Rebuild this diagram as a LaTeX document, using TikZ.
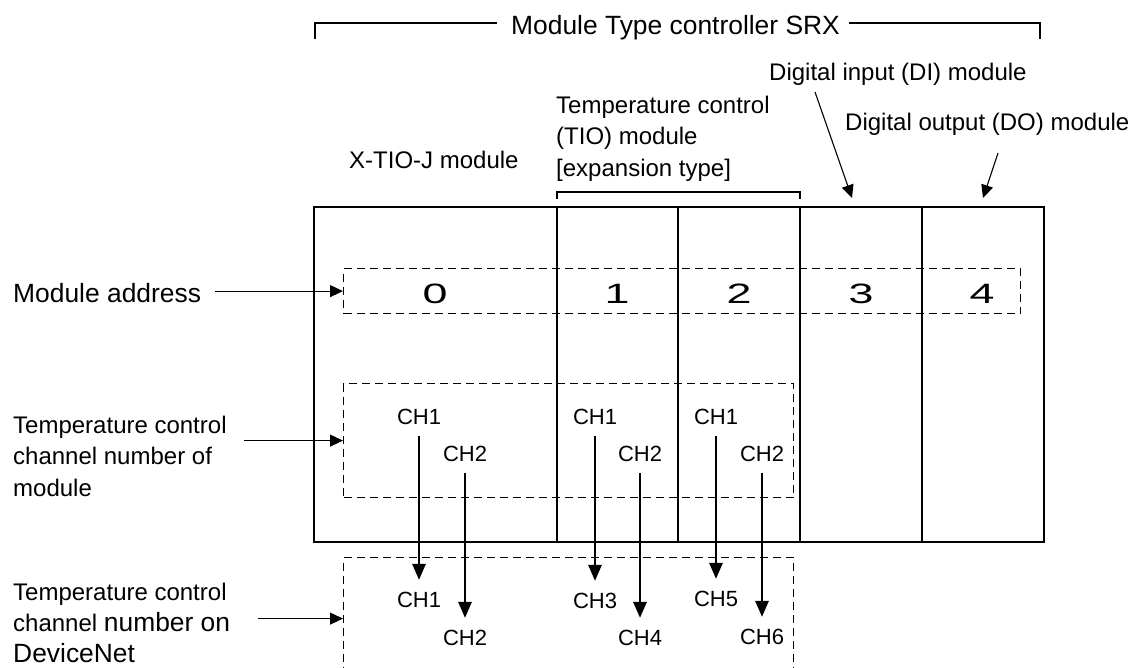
\documentclass[tikz,border=0pt]{standalone}
\usepackage{fontspec}
\setmainfont{Liberation Sans}
\usetikzlibrary{arrows.meta}
\begin{document}
\begin{tikzpicture}[x=1pt,y=-1pt,
  big/.style={font=\fontsize{26.4}{31}\selectfont, inner sep=0pt, anchor=base west},
  lbl/.style={font=\fontsize{24}{31.5}\selectfont, inner sep=0pt, align=left, anchor=north west},
  chl/.style={font=\fontsize{22}{26}\selectfont, inner sep=0pt, anchor=base},
  digit/.style={font=\fontsize{28}{30}\selectfont, inner sep=0pt, anchor=base},
  dbox/.style={draw, dash pattern=on 8pt off 5pt, line width=1.2pt, inner sep=0pt, anchor=north west},
  chflow/.style={-{Triangle[length=16pt,width=13pt]}, line width=2.7pt, shorten <=11.5pt, shorten >=11.5pt},
  pointer/.style={-{Triangle[length=13pt,width=12pt]}, line width=1.1pt},
  thickdiv/.style={line width=2.3pt},
  thindiv/.style={line width=1.7pt},
  bracket/.style={line width=1.3pt}]
\useasboundingbox (0,0) rectangle (1132,668);
\clip (0,0) rectangle (1132,668);

% title and its bracket
\node[big] (title) at (511,34.5) {Module Type controller SRX};
\draw[bracket] (315,39) -- (315,23) -- (497,23);
\draw[bracket] (849,23) -- (1040,23) -- (1040,39);

% module labels
\node[lbl, anchor=base west] (xtio) at (349,169) {X-TIO-J module};
\node[lbl] (tio) at (556,95) {\rule{0pt}{18pt}Temperature control\\(TIO) module\\{[}expansion type{]}};
\draw[bracket] (557,199) -- (557,192) -- (800,192) -- (800,199);
\node[lbl, anchor=base west] (di) at (769,80.5) {Digital input (DI) module};
\node[lbl, anchor=base west] (do) at (845,130.5) {Digital output (DO) module};
\coordinate (difrom) at (815,92);
\coordinate (ditip) at (852,198);
\coordinate (dofrom) at (998,153);
\coordinate (dotip) at (983,198);
\draw[pointer] (difrom) -- (ditip);
\draw[pointer] (dofrom) -- (dotip);

% main box
\draw[line width=2.7pt] (314,207) rectangle (1044,542);
\draw[thickdiv] (557,207) -- (557,542);
\draw[thindiv] (678,207) -- (678,542);
\draw[thickdiv] (800,207) -- (800,542);
\draw[thindiv] (922,207) -- (922,542);

% dashed groups
\node[dbox, minimum width=677pt, minimum height=45pt] (addr) at (343,268) {};
\node[dbox, minimum width=450pt, minimum height=114pt] (chup) at (343,383) {};
\node[dbox, minimum width=450pt, minimum height=122pt] (chnetbox) at (343,557) {};

% addresses
\node[digit] (d0) at (435,303) {\scalebox{1.6}[1]{0}};
\node[digit] (d1) at (617,303) {\scalebox{1.6}[1]{1}};
\node[digit] (d2) at (739,303) {\scalebox{1.6}[1]{2}};
\node[digit] (d3) at (861,303) {\scalebox{1.6}[1]{3}};
\node[digit] (d4) at (982,303) {\scalebox{1.6}[1]{4}};

% left labels
\node[big] (maddr) at (13,302.5) {Module address};
\draw[pointer, shorten <=14pt] (maddr.east |- addr.west) -- (addr.west);
\node[lbl] (chmod) at (13,415) {\rule{0pt}{18pt}Temperature control\\channel number of\\module};
\draw[pointer, shorten <=17pt] (chmod.east |- chup.west) -- (chup.west);
\node[lbl, font=\fontsize{24}{31}\selectfont] (chnet) at (13,582) {\rule{0pt}{18pt}Temperature control\\channel {\fontsize{26.4}{31}\selectfont number on}\\{\fontsize{26.4}{31}\selectfont DeviceNet}};
\draw[pointer, shorten <=28pt] (chnet.east |- chnetbox.west) -- (chnetbox.west);

% channel labels
\node[chl] (u1) at (419,424) {CH1};
\node[chl] (u2) at (465,461) {CH2};
\node[chl] (u3) at (595,424) {CH1};
\node[chl] (u4) at (640,461) {CH2};
\node[chl] (u5) at (716,424) {CH1};
\node[chl] (u6) at (762,461) {CH2};
\node[chl] (l1) at (419,607) {CH1};
\node[chl] (l2) at (465,645) {CH2};
\node[chl] (l3) at (595,608) {CH3};
\node[chl] (l4) at (640,645) {CH4};
\node[chl] (l5) at (716,606) {CH5};
\node[chl] (l6) at (762,644) {CH6};
\foreach \i in {1,...,6} \draw[chflow] (u\i.south) -- (l\i.north);
\end{tikzpicture}
\end{document}
